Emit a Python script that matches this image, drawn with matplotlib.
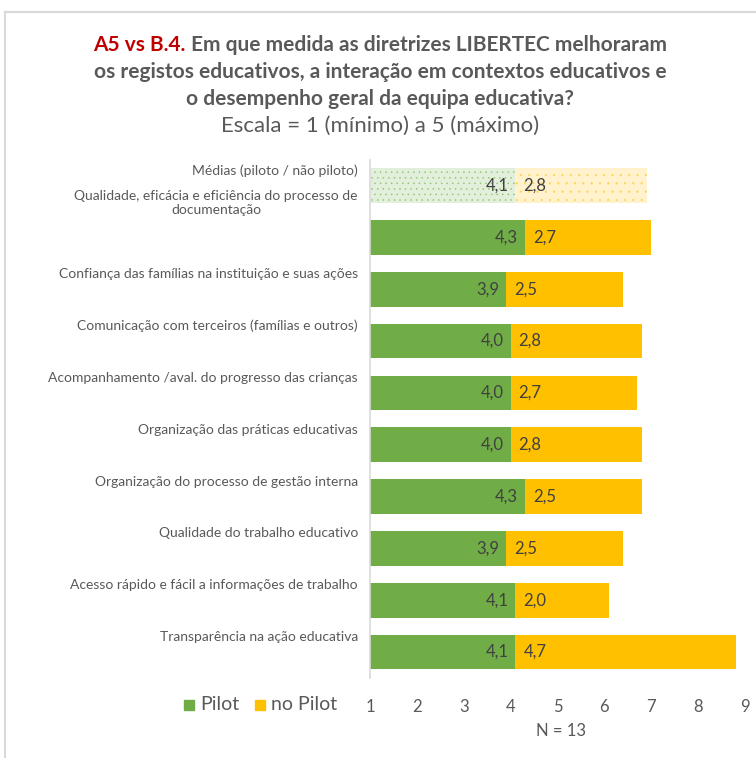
import matplotlib
matplotlib.use("Agg")
import matplotlib.pyplot as plt

categories = [
    "Médias (piloto / não piloto)",
    "Qualidade, eficácia e eficiência do processo de\ndocumentação",
    "Confiança das famílias na instituição e suas ações",
    "Comunicação com terceiros (famílias e outros)",
    "Acompanhamento /aval. do progresso das crianças",
    "Organização das práticas educativas",
    "Organização do processo de gestão interna",
    "Qualidade do trabalho educativo",
    "Acesso rápido e fácil a informações de trabalho",
    "Transparência na ação educativa",
]
pilot = [4.1, 4.3, 3.9, 4.0, 4.0, 4.0, 4.3, 3.9, 4.1, 4.1]
no_pilot = [2.8, 2.7, 2.5, 2.8, 2.7, 2.8, 2.5, 2.5, 2.0, 4.7]
xticks = [1, 2, 3, 4, 5, 6, 7, 8, 9]
series_names = ["Pilot", "no Pilot"]

FONT = "Lato"
GRAY = "#595959"
LABEL = "#404040"
GREEN = "#70AD47"
YELLOW = "#FFC000"

plt.rcParams['font.family'] = [FONT, 'DejaVu Sans']
plt.rcParams['hatch.linewidth'] = 0.3

W, H = 756, 758
fig = plt.figure(figsize=(W / 100, H / 100), dpi=100)

ax = fig.add_axes([370 / W, 1 - 678 / H, (745 - 370) / W, (678 - 159.6) / H])
ax.set_xlim(1, 9)
ax.set_ylim(len(categories) - 0.5, -0.5)

for i, (p, n) in enumerate(zip(pilot, no_pilot)):
    if i == 0:
        ax.barh(i, p, left=0, height=0.67, color="#E2EFDA", edgecolor="#8DBF6E",
                linewidth=0, hatch="...")
        ax.barh(i, n, left=p, height=0.67, color="#FFF2CC", edgecolor="#FFD24D",
                linewidth=0, hatch="..")
    else:
        ax.barh(i, p, left=0, height=0.67, color=GREEN, linewidth=0)
        ax.barh(i, n, left=p, height=0.67, color=YELLOW, linewidth=0)
    ax.annotate(f"{p:.1f}".replace(".", ","), (p, i), xytext=(-7, 0),
                textcoords="offset pixels", ha="right", va="center",
                fontsize=12, color=LABEL)
    ax.annotate(f"{n:.1f}".replace(".", ","), (p, i), xytext=(8, 0),
                textcoords="offset pixels", ha="left", va="center",
                fontsize=12, color=LABEL)
    off = 0.66 if "\n" in categories[i] else 0.29
    ax.annotate(categories[i], (1, i - off), xytext=(-12, 0), textcoords="offset pixels",
                ha="right", va="center", multialignment="center",
                fontsize=10, color=GRAY, linespacing=1.25, annotation_clip=False)

ax.set_yticks([])
ax.set_xticks(xticks)
ax.set_xticklabels([str(t) for t in xticks], fontsize=12, color=GRAY)
ax.tick_params(axis="x", length=0, pad=15)
for s in ["top", "right", "bottom"]:
    ax.spines[s].set_visible(False)
ax.spines["left"].set_color("#D9D9D9")
ax.spines["left"].set_linewidth(1.2)

fig.text(561 / W, 1 - 731 / H, "N = 13", ha="center", va="center", fontsize=12, color=GRAY)

# legend
for x0, col, name in [(184, GREEN, series_names[0]), (255, YELLOW, series_names[1])]:
    fig.patches.append(plt.Rectangle((x0 / W, 1 - 710 / H), 10 / W, 10 / H,
                                     transform=fig.transFigure, color=col, figure=fig))
    fig.text((x0 + 16) / W, 1 - 705 / H, name, ha="left", va="center", fontsize=14, color=GRAY)

# border
fig.add_artist(plt.Line2D([5 / W, 5 / W], [0, 1 - 12 / H], transform=fig.transFigure,
                          color="#D9D9D9", lw=1.5))
fig.add_artist(plt.Line2D([5 / W, 1], [1 - 12 / H, 1 - 12 / H], transform=fig.transFigure,
                          color="#D9D9D9", lw=1.5))

# title
cx = 380 / W
fig.canvas.draw()
r = fig.canvas.get_renderer()
t1 = fig.text(0, 1 - 45 / H, "A5 vs B.4.", ha="left", va="center", fontsize=15,
              fontweight="bold", color="#C00000")
t2 = fig.text(0, 1 - 45 / H, " Em que medida as diretrizes LIBERTEC melhoraram", ha="left",
              va="center", fontsize=15, fontweight="bold", color=GRAY)
w1 = t1.get_window_extent(r).width / W
w2 = t2.get_window_extent(r).width / W
start = cx - (w1 + w2) / 2
t1.set_x(start)
t2.set_x(start + w1)
fig.text(cx, 1 - 72 / H, "os registos educativos, a interação em contextos educativos e",
         ha="center", va="center", fontsize=15, fontweight="bold", color=GRAY)
fig.text(cx, 1 - 99 / H, "o desempenho geral da equipa educativa?",
         ha="center", va="center", fontsize=15, fontweight="bold", color=GRAY)
fig.text(cx, 1 - 126 / H, "Escala = 1 (mínimo) a 5 (máximo)",
         ha="center", va="center", fontsize=16, color=GRAY)

fig.savefig("out.png", dpi=100)
